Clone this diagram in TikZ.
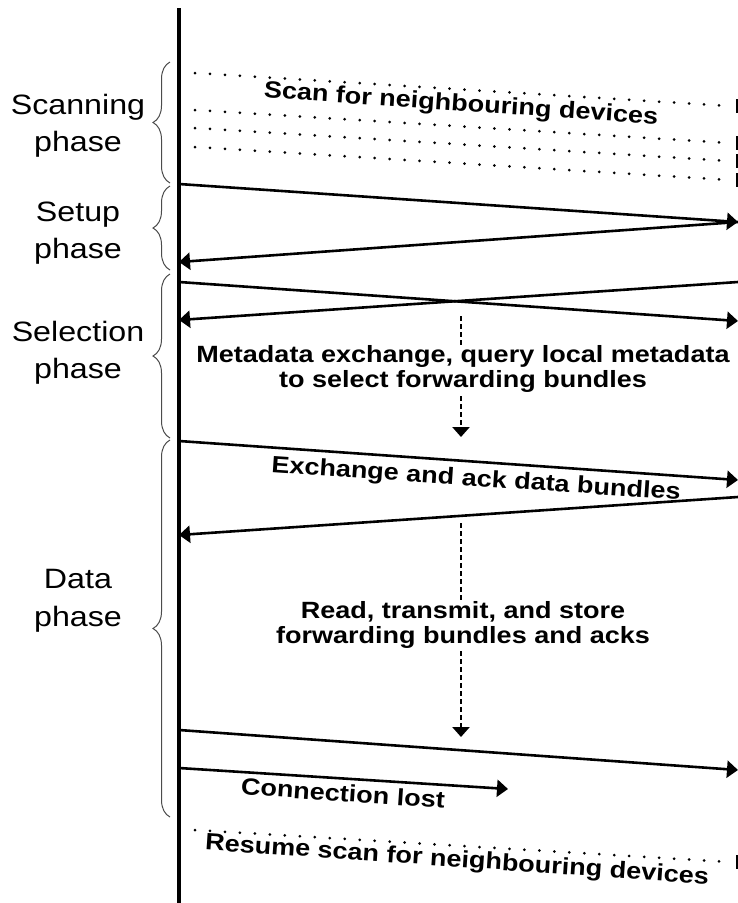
\documentclass[tikz,border=0pt]{standalone}
\usepackage{graphicx}
\usepackage{fontspec}
\setmainfont{Liberation Sans}
\usetikzlibrary{arrows.meta,decorations.pathreplacing}

\newcommand{\wide}[1]{\scalebox{1.15}[1]{#1}}

\begin{document}
\begin{tikzpicture}[x=1pt,y=-1pt,
    life/.style={line width=3.5pt},
    msg/.style={line width=2.6pt, -{Triangle[length=11pt,width=17pt]}},
    flow/.style={line width=2.6pt, dash pattern=on 5pt off 3pt, -{Triangle[length=10pt,width=17pt]}},
    scanrow/.style={line width=3pt, line cap=round, dash pattern=on 0pt off 15pt},
    phasebrace/.style={black!70, line width=1pt, decorate, decoration={brace, amplitude=17pt}},
    phase/.style={align=center, font=\fontsize{28}{37.5}\selectfont},
    note/.style={align=center, inner sep=1pt, font=\bfseries\fontsize{23.5}{24.5}\selectfont}]
    \useasboundingbox (0,0) rectangle (738,903);

    % Lifelines
    \coordinate (top) at (179,8);
    \coordinate (bot) at (179,903);
    \draw[life] (top) -- (bot);
    \foreach \ty in {106, 143, 161, 180, 862}
        \draw[line width=2.5pt] (737,\ty-7) -- (737,\ty+7);

    % Scanning
    \foreach \ly/\ry in {73/106, 110/143, 128/161, 147/180}
        \draw[scanrow] (195,\ly) -- (730,\ry);
    \draw[scanrow] (195,830) -- (730,862);

    % Message ends
    \coordinate (s1) at (179,184);
    \coordinate (r1) at (738,222);
    \coordinate (s2) at (179,262);
    \coordinate (s3) at (179,282);
    \coordinate (r3) at (738,321);
    \coordinate (r4) at (738,282);
    \coordinate (s4) at (179,320);
    \coordinate (s5) at (179,441);
    \coordinate (r5) at (738,480);
    \coordinate (r6) at (738,497);
    \coordinate (s6) at (179,535);
    \coordinate (s7) at (179,730);
    \coordinate (r7) at (738,770);
    \coordinate (s8) at (179,768);
    \coordinate (lost) at (508,789);
    \coordinate (m1) at (461,316);
    \coordinate (m2) at (461,437);
    \coordinate (d1) at (461,523);
    \coordinate (d2) at (461,737);

    % Edges
    \draw[msg] (s1) -- (r1);
    \draw[msg] (r1) -- (s2);
    \draw[msg] (s3) -- (r3);
    \draw[msg] (r4) -- (s4);
    \draw[flow] (m1) -- (m2);
    \draw[msg] (s5) -- (r5);
    \draw[msg] (r6) -- (s6);
    \draw[flow] (d1) -- (d2);
    \draw[msg] (s7) -- (r7);
    \draw[msg] (s8) -- (lost);

    % Texts
    \node[note, fill=white, inner sep=0pt, rotate=-3.9] (scan) at (461,105) {\wide{Scan for neighbouring devices}};
    \node[note, fill=white] (meta) at (463,369) {\wide{Metadata exchange, query local metadata}\\\wide{to select forwarding bundles}};
    \node[note, rotate=-3.9] (xchg) at (476,480) {\wide{Exchange and ack data bundles}};
    \node[note, fill=white] (store) at (463,625) {\wide{Read, transmit, and store}\\\wide{forwarding bundles and acks}};
    \node[note, rotate=-3.9] (lostlabel) at (343,793) {\wide{Connection lost}};
    \node[note, rotate=-3.9] (resume) at (457,861) {\wide{Resume scan for neighbouring devices}};

    % Phases
    \draw[phasebrace] (170,183) -- (170,62);
    \draw[phasebrace] (170,270) -- (170,186);
    \draw[phasebrace] (170,438) -- (170,274);
    \draw[phasebrace] (170,817) -- (170,440);
    \node[phase] (scanning) at (78,126) {\wide{Scanning}\\\wide{phase}};
    \node[phase] (setup) at (78,233) {\wide{Setup}\\\wide{phase}};
    \node[phase] (selection) at (78,353) {\wide{Selection}\\\wide{phase}};
    \node[phase] (data) at (78,601) {\wide{Data}\\\wide{phase}};
\end{tikzpicture}
\end{document}
